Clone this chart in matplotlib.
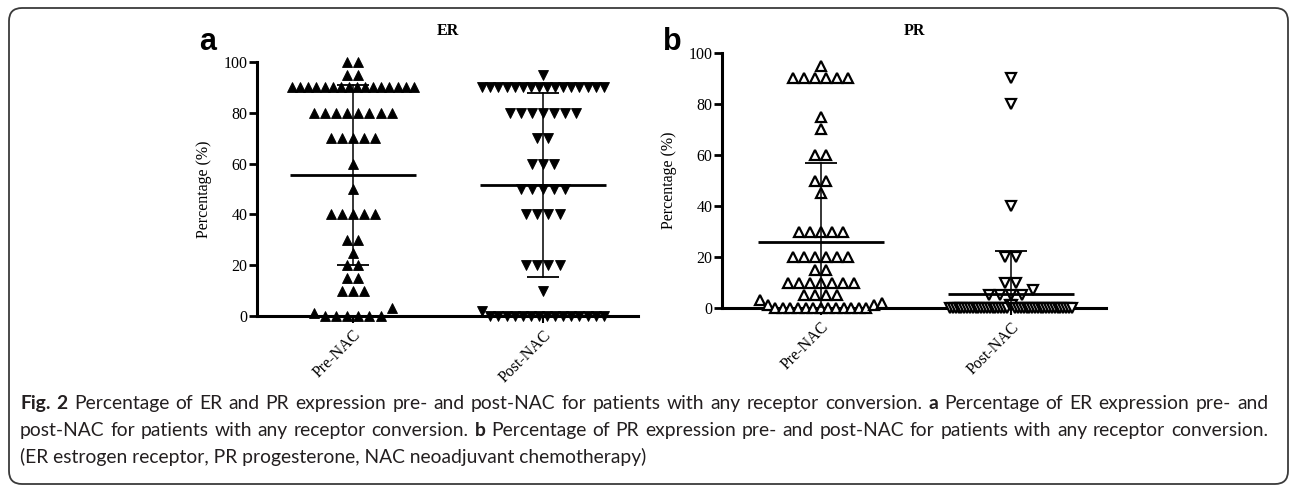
import numpy as np
import matplotlib
matplotlib.use('Agg')
import matplotlib.pyplot as plt
from matplotlib.patches import FancyBboxPatch
from matplotlib.transforms import IdentityTransform

plt.rcParams['font.family'] = 'Liberation Serif'

# values: each value and how many points sit at it,
# in the left-to-right order the points appear within their row
er_pre_vals = [100, 95, 90, 80, 70, 60, 50, 40, 30, 25, 20, 15, 10, 1, 0, 3]
er_pre_cnts = [2, 2, 16, 8, 5, 1, 1, 5, 2, 1, 2, 2, 3, 1, 6, 1]
er_post_vals = [95, 90, 80, 70, 60, 50, 40, 20, 10, 2, 0]
er_post_cnts = [1, 16, 7, 2, 3, 5, 4, 4, 1, 1, 15]

pr_pre_vals = [95, 90, 75, 70, 60, 50, 45, 30, 20, 15, 10, 5, 3, 1, 0, 1, 2]
pr_pre_cnts = [1, 6, 1, 1, 2, 2, 1, 5, 6, 2, 7, 4, 1, 1, 13, 1, 1]
pr_post_vals = [90, 80, 40, 20, 10, 5, 7, 0, 1, 0]
pr_post_cnts = [1, 1, 1, 2, 2, 4, 1, 21, 2, 21]

# mean and SD lines as drawn
er_mean = [55.5, 51.5]
er_sd = [35.5, 36.3]
pr_mean = [26.0, 5.3]
pr_sd = [31.0, 17.0]

groups = ['Pre-NAC', 'Post-NAC']

caption_lines = [
    "**Fig.** **2** Percentage of ER and PR expression pre- and post-NAC for patients with any receptor conversion. **a** Percentage of ER expression pre- and",
    "post-NAC for patients with any receptor conversion. **b** Percentage of PR expression pre- and post-NAC for patients with any receptor conversion.",
    "(ER estrogen receptor, PR progesterone, NAC neoadjuvant chemotherapy)",
]
cap_font = 'Lato'

W, H = 1292, 487
fig = plt.figure(figsize=(W / 100, H / 100), dpi=100)


def px_axes(left, top, width, height):
    return fig.add_axes([left / W, 1 - (top + height) / H, width / W, height / H])


def swarm(ys, center, step=0.058, max_half=0.32):
    # points falling in the same row are spread sideways, squeezed if too many
    rows = {}
    for k, v in enumerate(ys):
        rows.setdefault(int(v // 4.5), []).append(k)
    xs = np.zeros(len(ys))
    for idx in rows.values():
        n = len(idx)
        s = step if n < 2 else min(step, 2 * max_half / (n - 1))
        xs[idx] = center + (np.arange(n) - (n - 1) / 2) * s
    return xs


def panel(ax, data, means, sds, markers, filled, xlim):
    for i, (vals, cnts) in enumerate(data):
        ys = np.repeat(vals, cnts).astype(float)
        xs = swarm(ys, i)
        if filled:
            ax.plot(xs, ys, ls='none', marker=markers[i], ms=7.5, mfc='black',
                    mec='black', mew=0.6, clip_on=False, zorder=3)
        else:
            ax.plot(xs, ys, ls='none', marker=markers[i], ms=7, mfc='white',
                    mec='black', mew=1.6, clip_on=False, zorder=3)
        m, s = means[i], sds[i]
        lo, hi = max(m - s, 0), m + s
        ax.plot([i - 0.33, i + 0.33], [m, m], color='black', lw=2,
                solid_capstyle='butt', zorder=4)
        ax.plot([i, i], [lo, hi], color='black', lw=1.1, zorder=4)
        ax.plot([i - 0.085, i + 0.085], [hi, hi], color='black', lw=1.3,
                solid_capstyle='butt', zorder=4)
        if m - s > 0:
            ax.plot([i - 0.085, i + 0.085], [lo, lo], color='black', lw=1.3,
                    solid_capstyle='butt', zorder=4)
    ax.set_xlim(xlim)
    ax.set_ylim(0, 100)
    for side in ['top', 'right']:
        ax.spines[side].set_visible(False)
    for side in ['left', 'bottom']:
        ax.spines[side].set_linewidth(2.2)
    ax.set_yticks(range(0, 101, 20))
    ax.set_xticks(range(len(groups)))
    ax.set_xticklabels(groups, rotation=45, ha='right', rotation_mode='anchor')
    ax.tick_params(axis='y', length=6, width=2, labelsize=11.5, pad=1)
    ax.tick_params(axis='x', length=5, width=1.5, labelsize=11.5, pad=3)
    ax.set_ylabel('Percentage (%)', fontsize=11.5, labelpad=8)


ax_a = px_axes(257, 62, 381, 254)
panel(ax_a, [(er_pre_vals, er_pre_cnts), (er_post_vals, er_post_cnts)],
      er_mean, er_sd, ['^', 'v'], True, (-0.505, 1.5))

ax_b = px_axes(722, 53, 384, 255)
panel(ax_b, [(pr_pre_vals, pr_pre_cnts), (pr_post_vals, pr_post_cnts)],
      pr_mean, pr_sd, ['^', 'v'], False, (-0.52, 1.5))

fig.text(448 / W, 1 - 31 / H, 'ER', ha='center', va='center',
         fontsize=11.5, fontweight='bold')
fig.text(914 / W, 1 - 31 / H, 'PR', ha='center', va='center',
         fontsize=11.5, fontweight='bold')
fig.text(208 / W, 1 - 50 / H, 'a', ha='center', va='baseline',
         family='Liberation Sans', fontweight='bold', fontsize=22)
fig.text(672 / W, 1 - 50 / H, 'b', ha='center', va='baseline',
         family='Liberation Sans', fontweight='bold', fontsize=22)

# rounded frame round the whole figure
frame = FancyBboxPatch((9, 3), 1279, 476, boxstyle='round,pad=0,rounding_size=13',
                       transform=IdentityTransform(), fill=False,
                       edgecolor='#3a3a3a', linewidth=1.3)
fig.patches.append(frame)

# caption: size the font so the second line nearly fills the width, then justify
renderer = fig.canvas.get_renderer()
cap_color = '#231f20'
probe = fig.text(0, 0, caption_lines[1].replace('**', ''), family=cap_font, fontsize=10)
fs = 10 * 1232 / probe.get_window_extent(renderer).width
probe.remove()

x0, x1 = 20, 1268
baselines = [409, 436, 463]
for li, line in enumerate(caption_lines):
    y = 1 - baselines[li] / H
    if li == 2:
        fig.text(x0 / W, y, line, family=cap_font, fontsize=fs,
                 color=cap_color, va='baseline')
        continue
    words = []
    for w in line.split(' '):
        bold = w.startswith('**')
        words.append((w.strip('*'), bold))
    texts = [fig.text(0, y, w, family=cap_font, fontsize=fs, color=cap_color,
                      va='baseline', fontweight='bold' if b else 'normal')
             for w, b in words]
    widths = [t.get_window_extent(renderer).width for t in texts]
    gap = (x1 - x0 - sum(widths)) / (len(words) - 1)
    x = x0
    for t, w in zip(texts, widths):
        t.set_x(x / W)
        x += w + gap

fig.savefig('out.png', dpi=100)
